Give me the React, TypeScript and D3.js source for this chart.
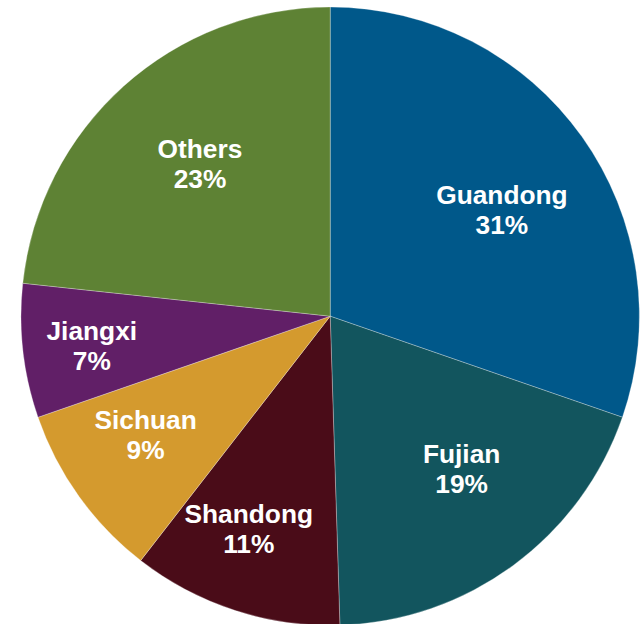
import React from "react";
import * as d3 from "d3";

const categories = ["Guandong", "Fujian", "Shandong", "Sichuan", "Jiangxi", "Others"];
const shares = [30.3, 19.2, 11.0, 9.2, 7.0, 23.3];
const percentLabels = ["31%", "19%", "11%", "9%", "7%", "23%"];
const colors = ["#00588A", "#12555E", "#4A0C18", "#D49A2E", "#611F67", "#5E8234"];

// label placement (radius factor, angle nudge in degrees) — mimics Excel "best fit"
const labelRadius = [0.654, 0.651, 0.735, 0.709, 0.777, 0.648];
const labelNudge = [3.6, -4.4, 3.0, 3.0, -0.6, 1.4];

const W = 641;
const H = 624;
const cx = 330.2;
const cy = 316.2;
const R = 309.2;
const FS = 26.3;
const LINE = 30;

export default function App() {
  const data = categories.map((c, i) => ({ name: c, value: shares[i], label: percentLabels[i], color: colors[i] }));
  const pie = d3.pie<any>().value((d) => d.value).sort(null);
  const arcs = pie(data);
  const arc = d3.arc<any>().innerRadius(0).outerRadius(R);

  return (
    <svg width={W} height={H} style={{ position: "absolute", left: 0, top: 0 }}>
      <g transform={`translate(${cx},${cy})`}>
        {arcs.map((a, i) => (
          <path key={i} d={arc(a) as string} fill={a.data.color} stroke="#ffffff" strokeWidth={0.4} strokeOpacity={0.7} />
        ))}
        {arcs.map((a, i) => {
          const mid = (a.startAngle + a.endAngle) / 2 + (labelNudge[i] * Math.PI) / 180;
          const r = labelRadius[i] * R;
          const x = r * Math.sin(mid);
          const y = -r * Math.cos(mid);
          const b1 = y - (LINE - 0.72 * FS) / 2;
          return (
            <text
              key={"t" + i}
              x={x}
              y={b1}
              textAnchor="middle"
              fill="#ffffff"
              fontFamily="'Liberation Sans', Arial, sans-serif"
              fontWeight="bold"
              fontSize={FS}
            >
              <tspan x={x} y={b1}>{a.data.name}</tspan>
              <tspan x={x} y={b1 + LINE}>{a.data.label}</tspan>
            </text>
          );
        })}
      </g>
    </svg>
  );
}
